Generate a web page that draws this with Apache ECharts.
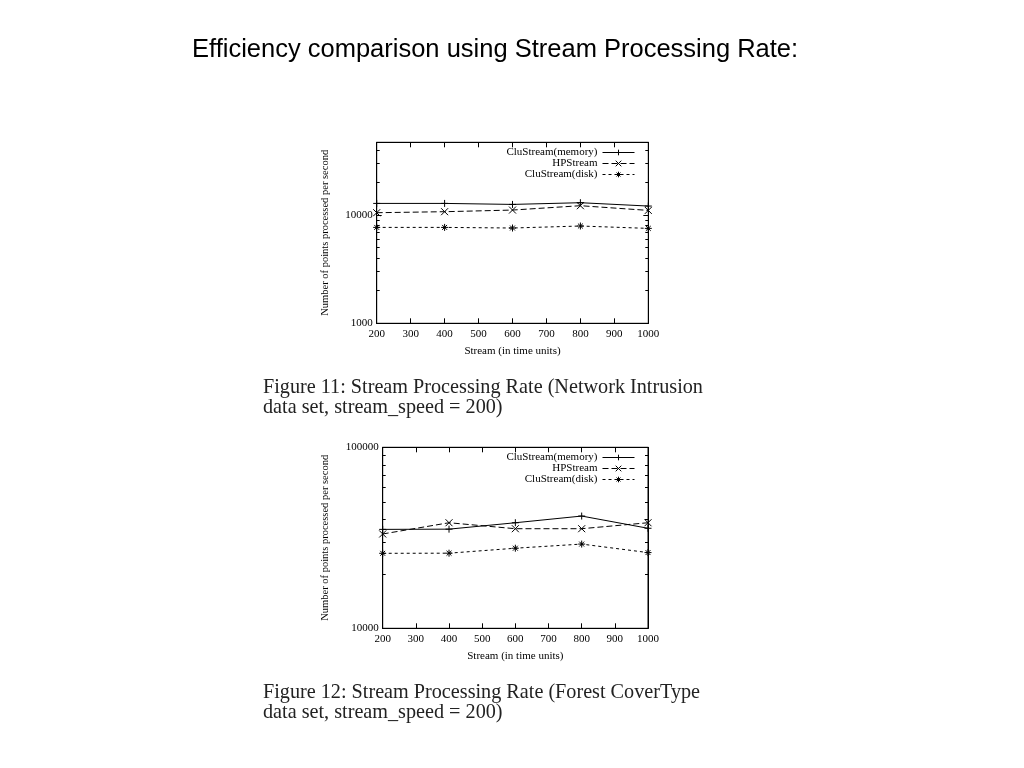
<!DOCTYPE html>
<html><head><meta charset="utf-8">
<script src="https://cdn.jsdelivr.net/npm/echarts@6/dist/echarts.min.js"></script>
<style>html,body{margin:0;padding:0;background:#fff}#c{width:1024px;height:768px}</style>
</head><body><div id="c"></div>
<script>
var xValues = [200, 400, 600, 800, 1000];
var seriesNames = ['CluStream(memory)', 'HPStream', 'CluStream(disk)'];
// Figure 11 (Network Intrusion)
var fig11Memory = [12810, 12810, 12540, 13000, 12110];
var fig11HP     = [10510, 10740, 11120, 12200, 11040];
var fig11Disk   = [7690, 7690, 7590, 7920, 7530];
// Figure 12 (Forest CoverType)
var fig12Memory = [35200, 35300, 38300, 41700, 35700];
var fig12HP     = [33200, 38300, 35500, 35500, 38300];
var fig12Disk   = [25960, 26000, 27700, 29200, 26200];
var fig11YLabels = [1000, 10000];
var fig12YLabels = [10000, 100000];
var fig11MinorTicks = [2000,3000,4000,5000,6000,7000,8000,9000,20000,30000,40000];
var fig12MinorTicks = [20000,30000,40000,50000,60000,70000,80000,90000];

var serif = 'Liberation Serif';
var symPlus = 'path://M0,5L10,5M5,0L5,10';
var symCross = 'path://M0,0L10,10M10,0L0,10';
var symStar = 'path://M0,5L10,5M5,0L5,10M1.5,1.5L8.5,8.5M8.5,1.5L1.5,8.5';
var symbols = [symPlus, symCross, symStar];
var dashes = ['solid', [6, 3], [3, 3]];

var grids = [
  {left: 376.7, right: 375.7, top: 142.3, height: 181, show: true, borderColor: '#000', borderWidth: 1},
  {left: 382.7, right: 376, top: 447.3, height: 181, show: true, borderColor: '#000', borderWidth: 1}
];

function plain(v) { return String(Math.round(v)); }

function xAxes(g) {
  return [
    {type: 'value', gridIndex: g, min: 200, max: 1000, interval: 100, position: 'bottom',
     name: 'Stream (in time units)', nameLocation: 'middle', nameGap: 22,
     nameTextStyle: {fontFamily: serif, fontSize: 11, color: '#000'},
     axisLine: {show: true, lineStyle: {color: '#000'}},
     axisTick: {show: true, inside: true, length: 5, lineStyle: {color: '#000'}},
     axisLabel: {fontFamily: serif, fontSize: 11, color: '#000', margin: 5, formatter: plain},
     splitLine: {show: false}},
    {type: 'value', gridIndex: g, min: 200, max: 1000, interval: 100, position: 'top',
     axisLine: {show: true, lineStyle: {color: '#000'}},
     axisTick: {show: true, inside: true, length: 5, lineStyle: {color: '#000'}},
     axisLabel: {show: false}, splitLine: {show: false}}
  ];
}
function yAxes(g, min, max, labels, minor, nameGap) {
  var base = {type: 'log', logBase: 10, gridIndex: g, min: min, max: max, splitLine: {show: false}};
  function mk(extra) { return Object.assign({}, base, extra); }
  return [
    mk({position: 'left', name: 'Number of points processed per second', nameLocation: 'middle', nameGap: nameGap,
        nameTextStyle: {fontFamily: serif, fontSize: 10.5, color: '#000'},
        axisLine: {show: true, lineStyle: {color: '#000'}},
        axisTick: {show: true, inside: true, length: 5, customValues: labels, lineStyle: {color: '#000'}},
        axisLabel: {fontFamily: serif, fontSize: 11, color: '#000', margin: 4, customValues: labels, formatter: plain}}),
    mk({position: 'left', axisLine: {show: false},
        axisTick: {show: true, inside: true, length: 3, customValues: minor, lineStyle: {color: '#000'}},
        axisLabel: {show: false}}),
    mk({position: 'right', axisLine: {show: true, lineStyle: {color: '#000'}},
        axisTick: {show: true, inside: true, length: 5, customValues: labels, lineStyle: {color: '#000'}},
        axisLabel: {show: false}}),
    mk({position: 'right', axisLine: {show: false},
        axisTick: {show: true, inside: true, length: 3, customValues: minor, lineStyle: {color: '#000'}},
        axisLabel: {show: false}})
  ];
}

function mkSeries(g, arrays) {
  return arrays.map(function (arr, i) {
    return {
      type: 'line', name: seriesNames[i], xAxisIndex: g * 2, yAxisIndex: g * 4,
      data: xValues.map(function (x, j) { return [x, arr[j]]; }),
      symbol: symbols[i], symbolSize: 7, showSymbol: true,
      itemStyle: {color: '#000', borderColor: '#000', borderWidth: 1},
      lineStyle: {color: '#000', width: 1, type: dashes[i]},
      animation: false, silent: true
    };
  });
}

function legend(top) {
  return {
    data: seriesNames, orient: 'vertical', right: 389, top: top, align: 'right',
    itemGap: 0, itemWidth: 32, itemHeight: 7,
    textStyle: {fontFamily: serif, fontSize: 11, color: '#000', lineHeight: 10, padding: [0, 0, 0, 0]},
    lineStyle: {width: 1},
    itemStyle: {borderWidth: 1},
    selectedMode: false, padding: 0
  };
}

var chart = echarts.init(document.getElementById('c'));
chart.setOption({
  backgroundColor: '#fff',
  animation: false,
  title: [
    {text: 'Efficiency comparison using Stream Processing Rate:', left: 187, top: 32,
     textStyle: {fontFamily: 'Liberation Sans', fontSize: 25.5, fontWeight: 'normal', color: '#000'}},
    {text: 'Figure 11: Stream Processing Rate (Network Intrusion\ndata set, stream_speed = 200)', left: 258, top: 373,
     textStyle: {fontFamily: serif, fontSize: 20.2, fontWeight: 'normal', color: '#222', lineHeight: 20}},
    {text: 'Figure 12: Stream Processing Rate (Forest CoverType\ndata set, stream_speed = 200)', left: 258, top: 678,
     textStyle: {fontFamily: serif, fontSize: 20.2, fontWeight: 'normal', color: '#222', lineHeight: 20}}
  ],
  legend: [legend(147), legend(452)],
  grid: grids,
  xAxis: xAxes(0).concat(xAxes(1)),
  yAxis: yAxes(0, 1000, 47000, fig11YLabels, fig11MinorTicks, 46).concat(
         yAxes(1, 10000, 100000, fig12YLabels, fig12MinorTicks, 52)),
  series: mkSeries(0, [fig11Memory, fig11HP, fig11Disk]).concat(
          mkSeries(1, [fig12Memory, fig12HP, fig12Disk]))
});
</script></body></html>
